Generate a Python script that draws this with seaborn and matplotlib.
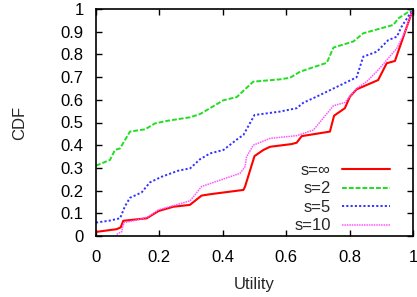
import matplotlib
matplotlib.use("Agg")
import matplotlib.pyplot as plt
import seaborn as sns
import pandas as pd

sns.set_theme(style="white")
plt.rcParams['font.family'] = ['Liberation Sans', 'DejaVu Sans']

labels = ["s=\u221e", "s=2", "s=5", "s=10"]

red_x = [0, 0.065, 0.078, 0.086, 0.16, 0.197, 0.244, 0.296, 0.333, 0.36, 0.465, 0.47, 0.50, 0.528, 0.549,
         0.617, 0.633, 0.649, 0.738, 0.751, 0.785, 0.801, 0.822, 0.89, 0.917, 0.943, 1.0]
red_y = [0.018, 0.03, 0.038, 0.067, 0.078, 0.11, 0.129, 0.137, 0.178, 0.184, 0.203, 0.217, 0.352, 0.379, 0.393,
         0.405, 0.411, 0.44, 0.46, 0.53, 0.563, 0.614, 0.646, 0.687, 0.761, 0.771, 1.0]

green_x = [0, 0.044, 0.06, 0.076, 0.107, 0.155, 0.186, 0.223, 0.297, 0.328, 0.402, 0.444, 0.496, 0.58, 0.612,
           0.644, 0.691, 0.728, 0.749, 0.812, 0.843, 0.938, 0.954, 1.0]
green_y = [0.31, 0.335, 0.379, 0.386, 0.46, 0.47, 0.496, 0.507, 0.523, 0.537, 0.598, 0.612, 0.68, 0.69, 0.697,
           0.724, 0.746, 0.763, 0.83, 0.857, 0.893, 0.93, 0.959, 1.0]

blue_x = [0, 0.044, 0.076, 0.091, 0.107, 0.144, 0.17, 0.207, 0.26, 0.297, 0.328, 0.36, 0.402, 0.449, 0.465,
          0.50, 0.58, 0.633, 0.654, 0.696, 0.822, 0.843, 0.886, 0.922, 0.949, 0.964, 1.0]
blue_y = [0.059, 0.068, 0.078, 0.13, 0.168, 0.192, 0.236, 0.261, 0.288, 0.298, 0.338, 0.364, 0.379, 0.43, 0.445,
          0.533, 0.548, 0.563, 0.587, 0.614, 0.699, 0.79, 0.812, 0.863, 0.878, 0.922, 1.0]

magenta_x = [0.065, 0.081, 0.088, 0.128, 0.165, 0.197, 0.297, 0.333, 0.454, 0.47, 0.475, 0.496, 0.549, 0.633,
             0.686, 0.749, 0.785, 0.822, 0.854, 0.89, 0.949, 0.975, 1.0]
magenta_y = [0.007, 0.019, 0.059, 0.07, 0.085, 0.115, 0.155, 0.218, 0.276, 0.305, 0.349, 0.4, 0.43, 0.442,
             0.467, 0.574, 0.588, 0.65, 0.68, 0.731, 0.827, 0.9, 1.0]

x_ticks = [0, 0.2, 0.4, 0.6, 0.8, 1]
x_tick_labels = ["0", "0.2", "0.4", "0.6", "0.8", "1"]
y_ticks = [0, 0.1, 0.2, 0.3, 0.4, 0.5, 0.6, 0.7, 0.8, 0.9, 1]
y_tick_labels = ["0", "0.1", "0.2", "0.3", "0.4", "0.5", "0.6", "0.7", "0.8", "0.9", "1"]

series = [(red_x, red_y), (green_x, green_y), (blue_x, blue_y), (magenta_x, magenta_y)]
colors = ["#ff0000", "#22dd22", "#3333ff", "#ff55ff"]
styles = ["-", (0, (2.5, 1.0)), (0, (1.1, 1.1)), (0, (1.0, 0.6))]
widths = [1.5, 1.4, 1.4, 1.1]

fig = plt.figure(figsize=(4.17, 2.97), dpi=100)
ax = fig.add_axes([96 / 417, 61 / 297, 317 / 417, 227 / 297])

for (xs, ys), lab, c, ls, lw in zip(series, labels, colors, styles, widths):
    df = pd.DataFrame({"x": xs, "y": ys})
    sns.lineplot(data=df, x="x", y="y", ax=ax, color=c, linestyle=ls, linewidth=lw,
                 label=lab, estimator=None, sort=False)

ax.set_xlim(0, 1)
ax.set_ylim(0, 1)
ax.set_xticks(x_ticks)
ax.set_xticklabels(x_tick_labels)
ax.set_yticks(y_ticks)
ax.set_yticklabels(y_tick_labels)
ax.tick_params(direction="in", length=4, width=1, colors="black", labelsize=12,
               top=True, right=True, bottom=True, left=True)
ax.tick_params(axis="y", pad=9)
ax.tick_params(axis="x", pad=10)
for sp in ax.spines.values():
    sp.set_color("black")
    sp.set_linewidth(1.2)
    sp.set_visible(True)
ax.set_xlabel("Utility", fontsize=12, labelpad=8.5)
ax.set_ylabel("CDF", fontsize=12, labelpad=24)
ax.grid(False)

leg = ax.legend(loc="lower right", bbox_to_anchor=(0.97, -0.047), frameon=False, markerfirst=False,
                fontsize=12, handlelength=2.9, labelspacing=0.21, handletextpad=0.66, borderpad=0.3)

fig.savefig("out.png", dpi=100)
